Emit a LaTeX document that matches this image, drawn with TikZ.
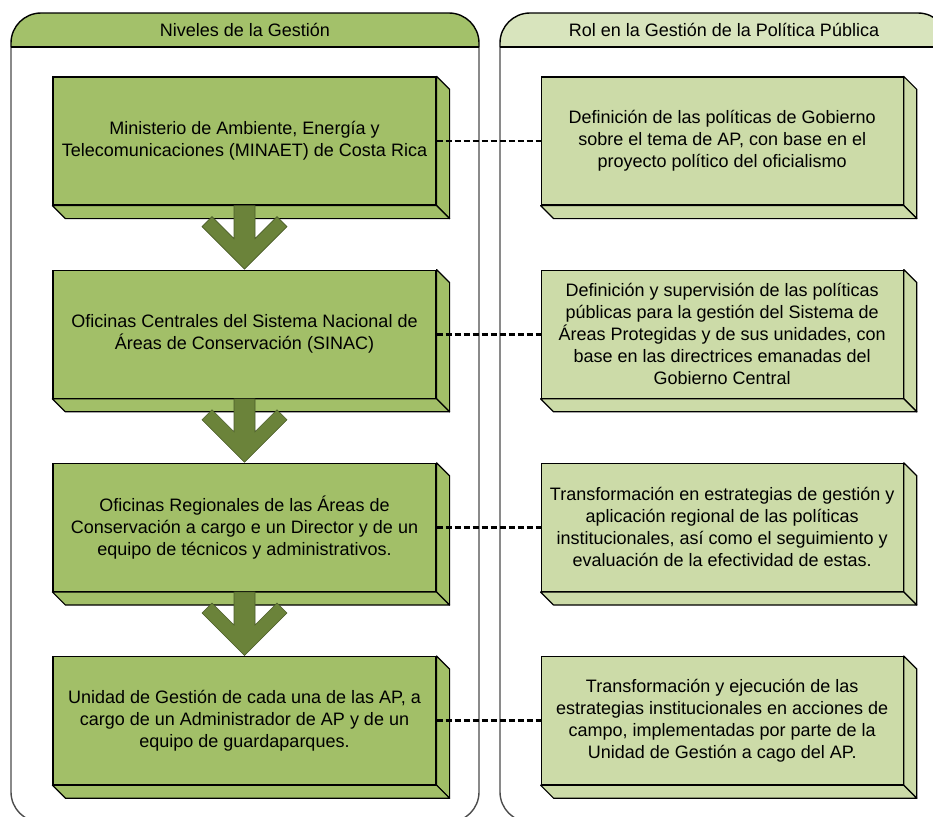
\documentclass[tikz,border=0pt]{standalone}
\usepackage{fontspec}
\setmainfont{Liberation Sans}
\usetikzlibrary{positioning}

\definecolor{lvlgreen}{HTML}{A2BF68}
\definecolor{rolgreen}{HTML}{CCDBA8}
\definecolor{headleft}{HTML}{A3C16A}
\definecolor{headright}{HTML}{D8E4BD}
\definecolor{arrowgreen}{HTML}{6B833A}

\tikzset{
  lvlbox/.style={draw, fill=lvlgreen, line width=0.6pt, minimum width=191.5pt,
    minimum height=64pt, align=center, inner sep=0pt},
  rolbox/.style={lvlbox, fill=rolgreen, minimum width=181pt},
  face/.style={draw, line width=0.6pt, line join=round},
  panelline/.style={draw=black!70, line width=0.7pt},
  headline/.style={draw, line width=0.7pt},
  dotline/.style={line width=1.3pt, dash pattern=on 3pt off 1.5pt},
  blockarrow/.style={fill=arrowgreen, draw=arrowgreen!70!black, line width=0.3pt}
}

\begin{document}
\begin{tikzpicture}[x=0.5pt, y=-0.5pt, font=\fontsize{9pt}{11pt}\selectfont]
        \useasboundingbox (0,0) rectangle (933,816);
        \clip (0,0) rectangle (933,816);

        % panels
        \draw[panelline] (11,47) [rounded corners=15pt] |- (245,822) -| (479,47);
        \draw[headline, fill=headleft] (11,47) [rounded corners=15pt] |- (245,13) -| (479,47);
        \draw[headline] (11,47) -- (479,47);
        \node (hl) at (245,30) {Niveles de la Gestión};

        \draw[panelline] (500,47) [rounded corners=15pt] |- (724,822) -| (948,47);
        \draw[headline, fill=headright] (500,47) [rounded corners=15pt] |- (724,13) -| (948,47);
        \draw[headline] (500,47) -- (948,47);
        \node (hr) at (724,30) {Rol en la Gestión de la Política Pública};

        % niveles
        \node[lvlbox] (n1) at (244.5,141) {Ministerio de Ambiente, Energía y\\Telecomunicaciones (MINAET) de Costa Rica};
        \node[lvlbox, below = 32pt of n1] (n2) {Oficinas Centrales del Sistema Nacional de\\Áreas de Conservación (SINAC)};
        \node[lvlbox, below = 32pt of n2] (n3) {Oficinas Regionales de las Áreas de\\Conservación a cargo e un Director y de un\\equipo de técnicos y administrativos.};
        \node[lvlbox, below = 32pt of n3] (n4) {Unidad de Gestión de cada una de las AP, a\\cargo de un Administrador de AP y de un\\equipo de guardaparques.};

        % roles
        \node[rolbox, right = 52pt of n1] (r1) {Definición de las políticas de Gobierno\\sobre el tema de AP, con base en el\\proyecto político del oficialismo};
        \node[rolbox, right = 52pt of n2] (r2) {Definición y supervisión de las políticas\\públicas para la gestión del Sistema de\\Áreas Protegidas y de sus unidades, con\\base en las directrices emanadas del\\Gobierno Central};
        \node[rolbox, right = 52pt of n3] (r3) {Transformación en estrategias de gestión y\\aplicación regional de las políticas\\institucionales, así como el seguimiento y\\evaluación de la efectividad de estas.};
        \node[rolbox, right = 52pt of n4] (r4) {Transformación y ejecución de las\\estrategias institucionales en acciones de\\campo, implementadas por parte de la\\Unidad de Gestión a cago del AP.};

        % depth faces
        \foreach \b/\c in {n1/lvlgreen, n2/lvlgreen, n3/lvlgreen, n4/lvlgreen,
                           r1/rolgreen, r2/rolgreen, r3/rolgreen, r4/rolgreen} {
            \draw[face, fill=\c] (\b.north east) -- ++(13,13) -- ([shift={(13,13)}]\b.south east) -- (\b.south east) -- cycle;
            \draw[face, fill=\c] (\b.south west) -- ++(13,13) -- ([shift={(13,13)}]\b.south east) -- (\b.south east) -- cycle;
        }

        % arrows between levels
        \foreach \b in {n1, n2, n3} {
            \draw[blockarrow] (\b.south) ++(-10.5,0) -- ++(0,33) -- ++(-22,-22) -- ++(-10,10)
                -- ++(42.5,42.5) -- ++(42.5,-42.5) -- ++(-10,-10) -- ++(-22,22) -- ++(0,-33) -- cycle;
        }

        % links
        \draw[dotline] (n1) -- (r1);
        \draw[dotline] (n2) -- (r2);
        \draw[dotline] (n3) -- (r3);
        \draw[dotline] (n4) -- (r4);
    \end{tikzpicture}
\end{document}
